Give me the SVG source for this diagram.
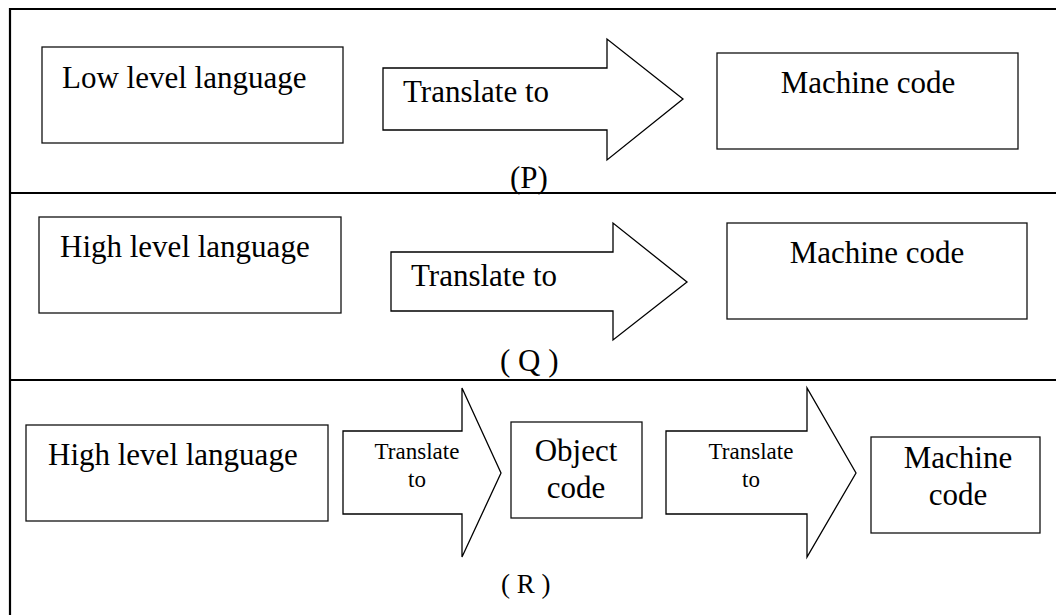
<svg xmlns="http://www.w3.org/2000/svg" width="1056" height="615" viewBox="0 0 1056 615">
<style>
.frame{stroke:#000;stroke-width:2.2;fill:none}
.box{fill:#fff;stroke:#111;stroke-width:1.3}
.arrow{fill:#fff;stroke:#000;stroke-width:1.3;stroke-linejoin:miter}
.t{font-family:"Liberation Serif","Times New Roman",serif;font-size:31px;fill:#000}
.s{font-family:"Liberation Serif","Times New Roman",serif;font-size:23px;fill:#000}
.c{text-anchor:middle}
</style>
<rect width="1056" height="615" fill="#fff"/>
<g id="frame">
<line class="frame" x1="10" y1="9" x2="1056" y2="9"/>
<line class="frame" x1="10" y1="8" x2="10" y2="615"/>
<line class="frame" x1="10" y1="193" x2="1056" y2="193"/>
<line class="frame" x1="10" y1="380" x2="1056" y2="380"/>
</g>
<g id="connectors">
<polygon id="arrowP" class="arrow" points="383,68 607,68 607,39 683,99 607,160 607,130 383,130"/>
<text class="t" x="403" y="102">Translate to</text>
<polygon id="arrowQ" class="arrow" points="391,252 613,252 613,223 687,282 613,340 613,311 391,311"/>
<text class="t" x="411" y="286">Translate to</text>
<polygon id="arrowR1" class="arrow" points="343,431 462,431 462,388 501,473 462,557 462,514 343,514"/>
<text class="s c" x="417" y="459">Translate</text>
<text class="s c" x="417" y="487">to</text>
<polygon id="arrowR2" class="arrow" points="666,431 807,431 807,388 856,473 807,557 807,514 666,514"/>
<text class="s c" x="751" y="459">Translate</text>
<text class="s c" x="751" y="487">to</text>
</g>
<g id="P-low">
<rect class="box" x="42" y="47" width="301" height="96"/>
<text class="t" x="62" y="88">Low level language</text>
</g>
<g id="P-machine">
<rect class="box" x="717" y="53" width="301" height="96"/>
<text class="t c" x="868" y="93">Machine code</text>
</g>
<text id="labelP" class="t" x="510" y="188">(P)</text>
<g id="Q-high">
<rect class="box" x="39" y="217" width="302" height="96"/>
<text class="t" x="60" y="257">High level language</text>
</g>
<g id="Q-machine">
<rect class="box" x="727" y="223" width="300" height="96"/>
<text class="t c" x="877" y="263">Machine code</text>
</g>
<text id="labelQ" class="t" x="500" y="371">( Q )</text>
<g id="R-high">
<rect class="box" x="26" y="425" width="302" height="96"/>
<text class="t" x="48" y="465">High level language</text>
</g>
<g id="R-object">
<rect class="box" x="511" y="422" width="131" height="96"/>
<text class="t c" x="576" y="461">Object</text>
<text class="t c" x="576" y="498">code</text>
</g>
<g id="R-machine">
<rect class="box" x="871" y="437" width="169" height="96"/>
<text class="t c" x="958" y="468">Machine</text>
<text class="t c" x="958" y="505">code</text>
</g>
<text id="labelR" class="t" x="501" y="593" style="font-size:27px">( R )</text>
</svg>
